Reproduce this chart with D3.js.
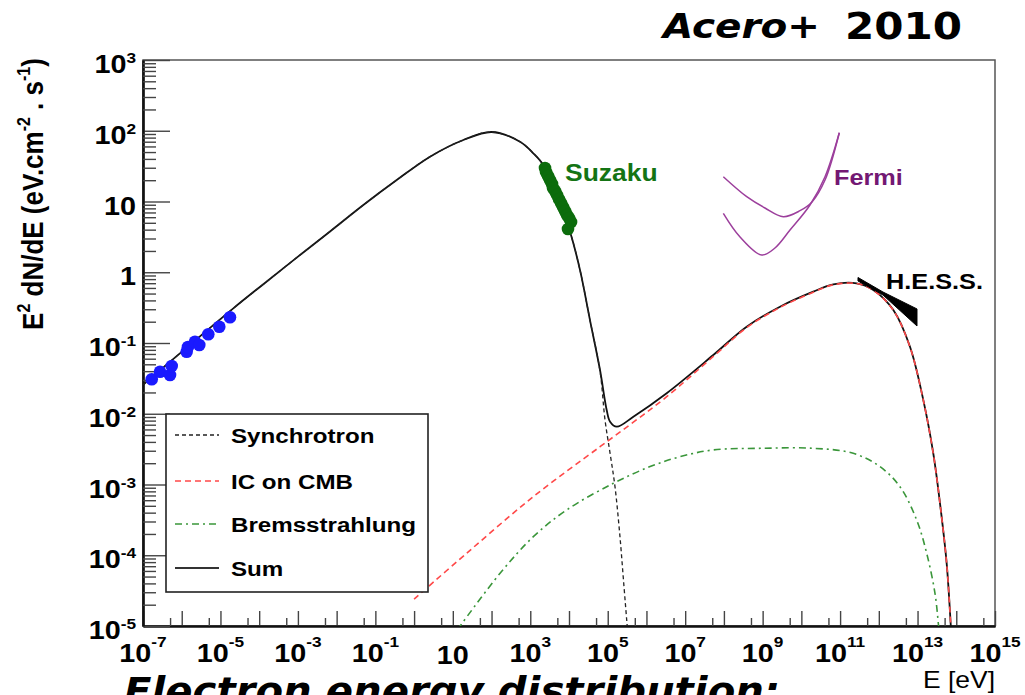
<!DOCTYPE html>
<html><head><meta charset="utf-8">
<script src="https://cdn.jsdelivr.net/npm/d3@7"></script>
<style>body{margin:0;background:#fff}svg{display:block}</style>
</head><body>
<svg id="c" width="1025" height="695"></svg>
<script>
// ---------- data (E in eV, E^2 dN/dE in eV cm^-2 s^-1) ----------
const sumE = [1e-7,2.15e-5,1.28e-4,9.31e-4,6.75e-3,4.89e-2,0.356,2.58,18.7,100,543,1200,2170,4610,1.06e4,1.92e4,3.48e4,6.32e4,9.40e4,1.15e5,1.71e5,4.59e5,3.33e6,5.32e7,3.87e8,2.81e9,2.03e10,6.68e10,2.68e11,7.21e11,2.37e12,6.38e12,1.41e13,2.55e13,3.80e13,5.65e13,7.16e13,7.41e13];
const sumF = [2.57e-2,0.309,0.678,1.61,3.77,8.93,20.1,43.0,74.0,96.0,70.0,48.0,32.8,12.8,3.74,1.08,0.211,4.15e-2,1.13e-2,7.73e-3,6.56e-3,9.08e-3,1.95e-2,6.76e-2,0.170,0.326,0.531,0.675,0.697,0.561,0.292,8.87e-2,1.56e-2,2.76e-3,5.42e-4,7.69e-5,1.09e-5,7.9e-6];

const synE = [1e-7,2.15e-5,1.28e-4,9.31e-4,6.75e-3,4.89e-2,0.356,2.58,18.7,100,543,1200,2170,4610,1.06e4,1.92e4,3.48e4,6.32e4,8.51e4,1.15e5,1.54e5,2.07e5,2.63e5,3.09e5,3.31e5];
const synF = [2.57e-2,0.309,0.678,1.61,3.77,8.93,20.1,43.0,74.0,96.0,70.0,48.0,32.8,12.8,3.74,1.08,0.211,4.0e-2,8.17e-3,2.76e-3,9.31e-4,1.83e-4,3.60e-5,1.22e-5,7.9e-6];

const icE = [1.0,22.9,1200,6.32e4,4.59e5,3.33e6,5.32e7,3.87e8,2.81e9,2.03e10,6.68e10,2.68e11,7.21e11,2.37e12,6.38e12,1.41e13,2.55e13,3.80e13,5.65e13,7.16e13,7.41e13];
const icF = [2.40e-5,1.07e-4,6.73e-4,3.42e-3,7.6e-3,1.74e-2,6.45e-2,0.165,0.318,0.522,0.665,0.692,0.558,0.290,8.75e-2,1.55e-2,2.72e-3,5.37e-4,7.59e-5,1.10e-5,7.9e-6];

const brE = [13.2,166,1200,8710,1.40e5,1.24e6,7.35e6,5.32e7,1.04e9,2.03e10,2.19e11,1.07e12,3.52e12,9.49e12,1.72e13,2.82e13,3.44e13,3.63e13];
const brF = [8.9e-6,5.56e-5,1.83e-4,4.37e-4,1.04e-3,1.79e-3,2.47e-3,3.08e-3,3.25e-3,3.25e-3,2.76e-3,1.79e-3,9.31e-4,3.15e-4,1.07e-4,2.90e-5,1.09e-5,7.9e-6];

const radioE = [1.68e-7,2.75e-7,4.98e-7,5.51e-7,1.34e-6,1.45e-6,2.20e-6,2.84e-6,4.85e-6,9.33e-6,1.76e-5];
const radioF = [3.07e-2,3.93e-2,3.53e-2,4.73e-2,7.53e-2,8.77e-2,0.104,9.38e-2,0.133,0.170,0.231];

const suzakuE = [2400,2550,2870,3230,3640,3860,4360,4900,5520,6210,7000,7890,8870,10000,11300,9420];
const suzakuF = [29.7,26.1,22.9,20.1,17.7,15.5,14.1,12.4,10.8,9.53,8.36,7.35,6.44,5.85,5.13,4.08];

const fermiAE = [9.66e7,3.88e8,1.15e9,3.42e9,9.23e9,1.88e10,4.08e10,9.55e10];
const fermiAF = [22.4,11.7,8.09,6.10,7.41,9.84,20.1,93.8];
const fermiBE = [9.66e7,2.61e8,9.46e8,2.08e9,5.09e9,1.67e10,4.08e10,9.55e10];
const fermiBF = [6.81,3.15,1.75,2.20,3.95,8.93,22.4,93.8];

const hessE  = [2.90e11,1.28e12,9.68e12];
const hessHi = [0.843,0.526,0.303];
const hessLo = [0.752,0.476,0.174];

const xLabelExp = [-7,-5,-3,-1,1,3,5,7,9,11,13,15];
const yLabelExp = [3,2,1,0,-1,-2,-3,-4,-5];
const legendNames = ["Synchrotron","IC on CMB","Bremsstrahlung","Sum"];

// ---------- layout ----------
const svg = d3.select("#c");
const X0=143,X1=995,Y0=60,Y1=626, SX=1.15;
const x = d3.scaleLog().domain([1e-7,1e15]).range([X0,X1]);
const y = d3.scaleLog().domain([1e-5,1e3]).range([Y1,Y0]);
const FONT = "'Liberation Sans', Arial, Helvetica, sans-serif";

svg.append("defs").append("clipPath").attr("id","clip")
  .append("rect").attr("x",X0).attr("y",Y0).attr("width",X1-X0).attr("height",Y1-Y0);

function txt(px,py,anchor,size,weight,fill){
  return svg.append("text").attr("transform",`translate(${px},${py}) scale(${SX},1)`)
    .attr("text-anchor",anchor).attr("font-family",FONT).attr("font-size",size)
    .attr("font-weight",weight).attr("fill",fill||"#000");
}
function powLabel(t,e,supDy,supSize){
  if(e===0){t.text("1");return;}
  t.append("tspan").text("10");
  if(e!==1){
    t.append("tspan").attr("dy",supDy).attr("font-size",supSize).text(String(e));
  }
}

// frame
svg.append("rect").attr("x",X0).attr("y",Y0).attr("width",X1-X0).attr("height",Y1-Y0)
  .attr("fill","none").attr("stroke","#555").attr("stroke-width",1.5);

// ticks
const xMaj = d3.range(-7,16).map(e=>Math.pow(10,e));
const xMin = d3.range(-7,15).map(e=>5*Math.pow(10,e));
const yMaj = d3.range(-5,4).map(e=>Math.pow(10,e));
const yMin = [];
d3.range(-5,3).forEach(e=>{for(let k=2;k<=9;k++) yMin.push(k*Math.pow(10,e));});
const axB = svg.append("g").attr("transform",`translate(0,${Y1})`);
axB.append("g").call(d3.axisBottom(x).tickValues(xMaj).tickSize(-15).tickFormat("").tickSizeOuter(0));
axB.append("g").call(d3.axisBottom(x).tickValues(xMin).tickSize(-8).tickFormat("").tickSizeOuter(0));
const axL = svg.append("g").attr("transform",`translate(${X0},0)`);
axL.append("g").call(d3.axisLeft(y).tickValues(yMaj).tickSize(-27).tickFormat("").tickSizeOuter(0));
axL.append("g").call(d3.axisLeft(y).tickValues(yMin).tickSize(-13).tickFormat("").tickSizeOuter(0));
svg.selectAll(".domain").attr("stroke","#111").attr("stroke-width",2.2);
svg.selectAll(".tick line").attr("stroke","#444").attr("stroke-width",1.4);

// tick labels
xLabelExp.forEach(e=>{
  const t = txt(x(Math.pow(10,e)), e===1?664:662, "middle", 25, "bold");
  powLabel(t,e,-15,15);
});
yLabelExp.forEach(e=>{
  const t = txt(136, y(Math.pow(10,e))+13, "end", 25, "bold");
  powLabel(t,e,-10,15);
});

// axis titles
const yt = svg.append("text").attr("transform",`translate(43,194) scale(${SX},1) rotate(-90)`)
  .attr("text-anchor","middle").attr("font-family",FONT).attr("font-size",26).attr("font-weight","bold");
yt.append("tspan").text("E");
yt.append("tspan").attr("dy",-11).attr("font-size",16).text("2");
yt.append("tspan").attr("dy",11).text(" dN/dE (eV.cm");
yt.append("tspan").attr("dy",-11).attr("font-size",16).text("-2");
yt.append("tspan").attr("dy",11).text(" . s");
yt.append("tspan").attr("dy",-11).attr("font-size",16).text("-1");
yt.append("tspan").attr("dy",11).text(")");
txt(995,688,"end",23,"normal").text("E [eV]");

// curves
const line = d3.line().x(d=>x(d[0])).y(d=>y(d[1])).curve(d3.curveCatmullRom.alpha(0.5));
const zip = (a,b)=>a.map((v,i)=>[v,b[i]]);
const plot = svg.append("g").attr("clip-path","url(#clip)");
plot.append("path").attr("d",line(zip(sumE,sumF))).attr("fill","none").attr("stroke","#111").attr("stroke-width",1.8);
plot.append("path").attr("d",line(zip(synE,synF))).attr("fill","none").attr("stroke","#222").attr("stroke-width",1.3).attr("stroke-dasharray","4,3");
plot.append("path").attr("d",line(zip(icE,icF))).attr("fill","none").attr("stroke","#ff4848").attr("stroke-width",1.6).attr("stroke-dasharray","6,4");
plot.append("path").attr("d",line(zip(brE,brF))).attr("fill","none").attr("stroke","#3a963a").attr("stroke-width",1.6).attr("stroke-dasharray","7,4,2,4");

// Fermi
[zip(fermiAE,fermiAF),zip(fermiBE,fermiBF)].forEach(d=>{
  plot.append("path").attr("d",line(d)).attr("fill","none").attr("stroke","#9c3f9c").attr("stroke-width",1.5);
});
txt(834,185,"start",22,"bold","#731873").text("Fermi");

// HESS butterfly
const hessPoly = zip(hessE,hessHi).concat(zip(hessE,hessLo).reverse());
plot.append("path").attr("d",d3.line().x(d=>x(d[0])).y(d=>y(d[1]))(hessPoly)+"Z").attr("fill","#000").attr("stroke","#000").attr("stroke-width",1);
txt(886,289,"start",22,"bold").text("H.E.S.S.");

// data points
plot.selectAll(".radio").data(zip(radioE,radioF)).enter().append("circle")
  .attr("cx",d=>x(d[0])).attr("cy",d=>y(d[1])).attr("r",6.3).attr("fill","#1a1aff");
plot.selectAll(".suz").data(zip(suzakuE,suzakuF)).enter().append("circle")
  .attr("cx",d=>x(d[0])).attr("cy",d=>y(d[1])).attr("r",6.3).attr("fill","#0c6c0c");
txt(565,181,"start",23,"bold","#147414").text("Suzaku");

// legend
svg.append("rect").attr("x",166).attr("y",414).attr("width",262).attr("height",178)
  .attr("fill","#fff").attr("stroke","#222").attr("stroke-width",1.6);
const legStyles = [
  {c:"#222",w:1.3,d:"4,3"},
  {c:"#ff4848",w:1.6,d:"6,4"},
  {c:"#3a963a",w:1.6,d:"7,4,2,4"},
  {c:"#333",w:2,d:null}
];
const legY = [435,481,524,568];
legendNames.forEach((n,i)=>{
  const s = svg.append("line").attr("x1",175).attr("x2",219).attr("y1",legY[i]).attr("y2",legY[i])
    .attr("stroke",legStyles[i].c).attr("stroke-width",legStyles[i].w);
  if(legStyles[i].d) s.attr("stroke-dasharray",legStyles[i].d);
  txt(231,legY[i]+8,"start",21,"bold").text(n);
});

// annotations
svg.append("text").attr("x",663).attr("y",38).attr("font-family","'DejaVu Sans', sans-serif")
  .attr("font-size",34).attr("font-weight","bold").attr("font-style","italic")
  .attr("textLength",157).attr("lengthAdjust","spacingAndGlyphs").text("Acero+");
svg.append("text").attr("x",845).attr("y",39).attr("font-family","'DejaVu Sans', sans-serif")
  .attr("font-size",38).attr("font-weight","bold")
  .attr("textLength",117).attr("lengthAdjust","spacingAndGlyphs").text("2010");
svg.append("text").attr("x",124).attr("y",704).attr("font-family","'DejaVu Sans', sans-serif")
  .attr("font-size",37).attr("font-weight","bold").attr("font-style","italic")
  .attr("textLength",656).attr("lengthAdjust","spacingAndGlyphs").text("Electron energy distribution:");
</script>
</body></html>
